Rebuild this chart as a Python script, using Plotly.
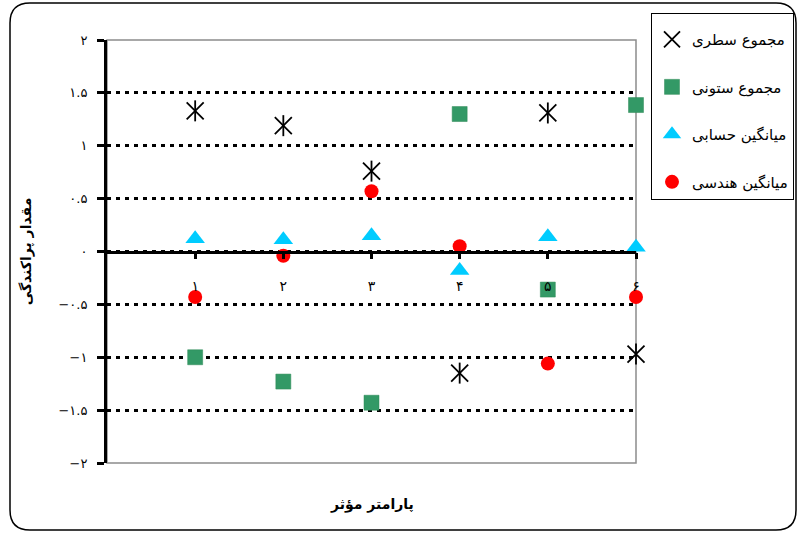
import plotly.graph_objects as go

# ---- data ----
x_vals = [1, 2, 3, 4, 5, 6]
x_labels = ["۱", "۲", "۳", "۴", "۵", "۶"]
row_sum = [1.33, 1.19, 0.76, -1.15, 1.31, -0.97]
col_sum = [-1.00, -1.23, -1.43, 1.30, -0.36, 1.385]
arith_mean = [0.12, 0.11, 0.15, -0.18, 0.14, 0.04]
geo_mean = [-0.43, -0.04, 0.57, 0.05, -1.06, -0.43]
y_ticks = [-2, -1.5, -1, -0.5, 0, 0.5, 1, 1.5, 2]
y_labels = ["−۲", "−۱.۵", "−۱", "−۰.۵", "۰", "۰.۵", "۱", "۱.۵", "۲"]
names = ["مجموع سطری", "مجموع ستونی", "میانگین حسابی", "میانگین هندسی"]
x_title = "پارامتر مؤثر"
y_title = "مقدار پراکندگی"

FONT = "DejaVu Sans"
W, H = 797, 533
ML, MT = 107, 40
PW, PH = 636 - 107, 463 - 40
MR, MB = W - ML - PW, H - MT - PH


def px(xs):
    return (xs - ML) / PW


def py(ys):
    return (MT + PH - ys) / PH


fig = go.Figure()
fig.add_trace(go.Scatter(
    x=x_vals, y=row_sum, mode="markers", name=names[0], legendgroup="a",
    cliponaxis=False,
    marker=dict(symbol="x-thin-open", size=17, color="black",
                line=dict(color="black", width=1.8))))
fig.add_trace(go.Scatter(
    x=x_vals, y=row_sum, mode="markers", name=names[0], legendgroup="a",
    showlegend=False, hoverinfo="skip", cliponaxis=False,
    marker=dict(symbol="line-ns-open", size=15, color="black",
                line=dict(color="black", width=1.8))))
fig.add_trace(go.Scatter(
    x=x_vals, y=col_sum, mode="markers", name=names[1], legendgroup="b",
    cliponaxis=False,
    marker=dict(symbol="square", size=15, color="#339966",
                line=dict(color="#2e8b57", width=0.5))))
fig.add_trace(go.Scatter(
    x=x_vals, y=arith_mean, mode="markers", name=names[2], legendgroup="c",
    cliponaxis=False,
    marker=dict(symbol="triangle-up", size=17, color="#00CCFF",
                line=dict(width=0))))
fig.add_trace(go.Scatter(
    x=x_vals, y=geo_mean, mode="markers", name=names[3], legendgroup="d",
    cliponaxis=False,
    marker=dict(symbol="circle", size=14, color="#FF0000",
                line=dict(width=0))))

# rounded outer border
x0, x1 = px(10), px(796)
y0, y1 = py(530), py(3)
rx, ry = 20 / PW, 20 / PH
path = (f"M {x0+rx},{y1} L {x1-rx},{y1} Q {x1},{y1} {x1},{y1-ry} "
        f"L {x1},{y0+ry} Q {x1},{y0} {x1-rx},{y0} "
        f"L {x0+rx},{y0} Q {x0},{y0} {x0},{y0+ry} "
        f"L {x0},{y1-ry} Q {x0},{y1} {x0+rx},{y1} Z")

fig.update_layout(
    width=W, height=H,
    margin=dict(l=ML, r=MR, t=MT, b=MB, autoexpand=False),
    paper_bgcolor="white", plot_bgcolor="white",
    font=dict(family=FONT, size=13, color="black"),
    showlegend=True,
    legend=dict(x=px(651), y=py(13), xanchor="left", yanchor="top",
                bordercolor="black", borderwidth=1, bgcolor="white",
                font=dict(family=FONT, size=15, color="black"),
                title=dict(text=" ", font=dict(size=7)),
                tracegroupgap=25, itemsizing="trace"),
    shapes=[
        dict(type="rect", xref="paper", yref="paper", x0=0, x1=1, y0=0, y1=1,
             line=dict(color="#8c8c8c", width=1.5), layer="below"),
        dict(type="path", xref="paper", yref="paper", path=path,
             line=dict(color="black", width=1.5), layer="below"),
    ],
    annotations=[
        dict(text=f"<b>{x_title}</b>", xref="paper", yref="paper",
             x=0.5, y=py(505), xanchor="center", yanchor="middle",
             showarrow=False, font=dict(family=FONT, size=14, color="black")),
    ],
)

fig.update_xaxes(
    range=[0, 6], tickvals=x_vals, ticktext=x_labels,
    anchor="free", position=0.5,
    showline=True, linecolor="black", linewidth=2.5,
    ticks="outside", ticklen=6, tickwidth=2.5, tickcolor="black",
    ticklabelstandoff=15,
    showgrid=False, zeroline=False,
    tickfont=dict(family=FONT, size=14, color="black"),
)
fig.update_yaxes(
    range=[-2, 2], tickvals=y_ticks, ticktext=y_labels,
    layer="below traces",
    showline=True, linecolor="black", linewidth=3,
    ticks="outside", ticklen=7, tickwidth=3, tickcolor="black",
    ticklabelstandoff=7,
    showgrid=True, gridcolor="black", gridwidth=2.5, griddash="4px,5px",
    zeroline=False,
    tickfont=dict(family=FONT, size=13, color="black"),
    title=dict(text=f"<b>{y_title}</b>", standoff=24,
               font=dict(family=FONT, size=14, color="black")),
)

fig.write_html(
    "out.html",
    config={"displayModeBar": False},
    post_script="document.body.style.margin='0px';"
                "document.body.style.overflow='hidden';",
)
